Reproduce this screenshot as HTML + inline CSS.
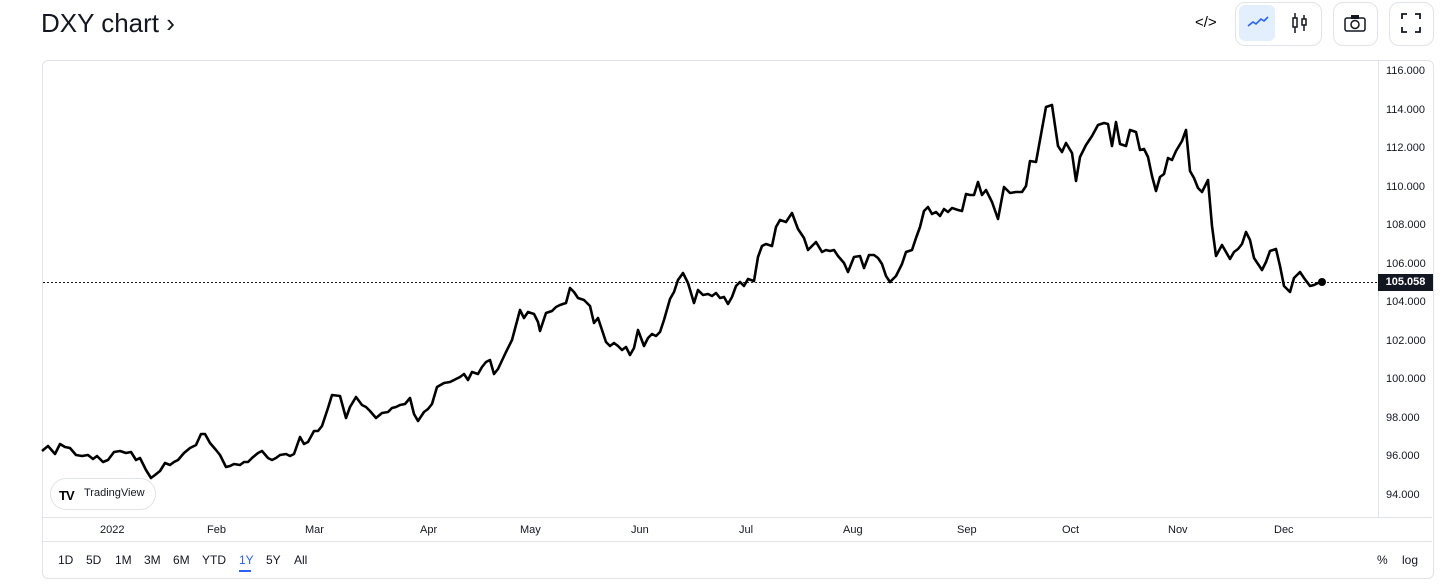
<!DOCTYPE html>
<html><head><meta charset="utf-8"><style>
body{margin:0;width:1456px;height:587px;background:#fff;font-family:"Liberation Sans",sans-serif;overflow:hidden;position:relative}
.t{position:absolute;left:41px;top:8px;font-size:26px;color:#131722}
.btn{position:absolute;top:2px;height:42px;border:1px solid #e0e3eb;border-radius:10px;background:#fff}
.box{position:absolute;left:42px;top:60px;width:1390px;height:517px;border:1px solid #e0e3eb;border-radius:6px}
.yl{position:absolute;left:1386px;font-size:11px;color:#131722}
.xl{position:absolute;top:524px;font-size:11px;color:#131722}
.rb{position:absolute;top:553px;font-size:12px;color:#131722}
</style></head><body>
<div class="t">DXY chart ›</div>
<div style="position:absolute;left:1195px;top:14px;font-size:15px">&lt;/&gt;</div>
<div class="btn" style="left:1235px;width:85px"></div>
<div style="position:absolute;left:1239px;top:5px;width:36px;height:36px;background:#e3effd;border-radius:6px"></div>
<svg style="position:absolute;left:1247px;top:14px" width="22" height="16"><polyline points="1,12 6,8 9,10 14,5 17,7 21,3" fill="none" stroke="#2962ff" stroke-width="1.6"/></svg>
<svg style="position:absolute;left:1291px;top:11px" width="18" height="24"><line x1="4" y1="2" x2="4" y2="22" stroke="#131722" stroke-width="1.5"/><rect x="2" y="7" width="4" height="9" fill="#fff" stroke="#131722" stroke-width="1.5"/><line x1="13" y1="4" x2="13" y2="20" stroke="#131722" stroke-width="1.5"/><rect x="11" y="8" width="4" height="6" fill="#fff" stroke="#131722" stroke-width="1.5"/></svg>
<div class="btn" style="left:1333px;width:43px"></div>
<svg style="position:absolute;left:1344px;top:14px" width="22" height="18"><rect x="1" y="4" width="20" height="13" rx="2" fill="none" stroke="#131722" stroke-width="1.5"/><rect x="7" y="1" width="8" height="4" fill="#131722"/><circle cx="11" cy="10.5" r="4" fill="none" stroke="#131722" stroke-width="1.5"/></svg>
<div class="btn" style="left:1389px;width:43px"></div>
<svg style="position:absolute;left:1401px;top:13px" width="20" height="20"><path d="M1 6V1H6M14 1H19V6M19 14V19H14M6 19H1V14" fill="none" stroke="#131722" stroke-width="1.8"/></svg>
<div class="box"></div>
<div style="position:absolute;left:1378px;top:61px;width:1px;height:456px;background:#e0e3eb"></div>
<div style="position:absolute;left:43px;top:517px;width:1389px;height:1px;background:#e0e3eb"></div>
<div style="position:absolute;left:43px;top:541px;width:1389px;height:1px;background:#e0e3eb"></div>
<div class="yl" style="top:65px">116.000</div>
<div class="yl" style="top:104px">114.000</div>
<div class="yl" style="top:142px">112.000</div>
<div class="yl" style="top:181px">110.000</div>
<div class="yl" style="top:219px">108.000</div>
<div class="yl" style="top:258px">106.000</div>
<div class="yl" style="top:296px">104.000</div>
<div class="yl" style="top:335px">102.000</div>
<div class="yl" style="top:373px">100.000</div>
<div class="yl" style="top:412px">98.000</div>
<div class="yl" style="top:450px">96.000</div>
<div class="yl" style="top:489px">94.000</div>
<div style="position:absolute;left:1378px;top:274px;width:55px;height:17px;background:#131722;color:#fff;font-size:11px;font-weight:bold;line-height:17px;text-align:center">105.058</div>
<svg style="position:absolute;left:0;top:0" width="1456" height="587">
<line x1="43" y1="282.5" x2="1378" y2="282.5" stroke="#131722" stroke-width="1" stroke-dasharray="2,2"/>
<polyline fill="none" stroke="#000" stroke-width="2.6" stroke-linejoin="round" points="42,451 48,446 55,454 60,444 65,447 70,448 76,455 82,456 88,455 93,459 97,456 103,462 108,460 114,452 120,451 126,453 131,452 136,460 140,458 146,470 151,478 155,475 160,471 165,463 170,465 174,462 178,460 184,453 190,448 196,445 201,434 205,434 210,443 216,450 220,455 226,467 230,466 234,464 240,465 244,462 248,462 252,458 258,453 262,451 268,458 272,460 276,458 280,455 286,454 290,456 294,454 300,437 304,444 308,442 314,431 318,431 322,426 328,408 332,395 340,396 346,418 350,407 356,397 362,405 366,407 370,411 376,418 382,413 388,412 392,408 396,407 400,405 405,404 410,398 414,414 418,421 424,412 428,409 432,404 437,387 444,383 450,382 456,379 460,377 464,374 468,380 472,372 478,374 482,367 486,362 490,360 494,374 498,369 506,352 512,340 516,325 520,310 524,318 528,312 534,314 538,322 540,331 546,313 552,311 556,307 560,305 566,303 570,288 574,292 578,298 584,300 590,306 594,323 598,318 602,330 606,342 610,346 614,343 618,346 622,350 626,347 630,355 634,348 638,330 644,346 648,338 652,334 656,336 660,332 664,320 670,299 674,292 678,280 683,273 688,283 694,303 698,290 703,295 708,294 712,296 716,293 720,298 724,297 728,304 732,297 736,286 740,282 744,286 748,279 754,281 758,257 762,246 766,244 772,246 776,227 780,220 786,222 792,213 798,229 804,238 808,250 812,246 816,242 822,252 826,250 830,251 834,250 838,256 844,263 848,272 854,257 860,256 864,268 869,255 874,255 878,258 882,264 886,276 890,282 896,276 902,264 906,252 912,250 916,238 920,227 924,211 928,207 932,214 936,212 940,216 944,209 948,212 952,208 958,210 962,211 966,194 970,195 974,195 978,182 982,195 986,190 992,202 998,219 1004,187 1010,193 1016,192 1022,192 1026,186 1030,161 1036,162 1040,140 1046,107 1052,105 1058,146 1062,152 1066,143 1072,153 1076,181 1080,157 1086,145 1092,136 1098,125 1104,123 1108,124 1112,146 1116,122 1120,144 1126,146 1130,130 1136,132 1140,150 1144,149 1148,157 1152,176 1156,191 1160,177 1164,174 1168,158 1172,160 1176,151 1182,141 1186,130 1190,171 1194,178 1198,188 1202,192 1208,180 1212,226 1216,256 1222,245 1226,252 1230,259 1234,252 1238,249 1242,244 1246,232 1250,240 1254,258 1258,264 1262,270 1266,262 1270,251 1276,249 1280,266 1284,286 1290,292 1294,278 1300,272 1304,278 1310,286 1314,285 1318,283 1322,282"/>
<circle cx="1322" cy="282" r="4" fill="#000"/>
</svg>
<div style="position:absolute;left:50px;top:478px;width:104px;height:30px;border:1px solid #e0e3eb;border-radius:16px;background:#fff"></div>
<div style="position:absolute;left:59px;top:488px;font-size:13px;font-weight:bold;letter-spacing:-1px">TV</div>
<div style="position:absolute;left:84px;top:487px;font-size:11px;color:#131722">TradingView</div>
<div class="xl" style="left:100px">2022</div>
<div class="xl" style="left:207px">Feb</div>
<div class="xl" style="left:305px">Mar</div>
<div class="xl" style="left:420px">Apr</div>
<div class="xl" style="left:520px">May</div>
<div class="xl" style="left:631px">Jun</div>
<div class="xl" style="left:739px">Jul</div>
<div class="xl" style="left:843px">Aug</div>
<div class="xl" style="left:957px">Sep</div>
<div class="xl" style="left:1062px">Oct</div>
<div class="xl" style="left:1168px">Nov</div>
<div class="xl" style="left:1274px">Dec</div>
<div class="rb" style="left:58px">1D</div>
<div class="rb" style="left:86px">5D</div>
<div class="rb" style="left:115px">1M</div>
<div class="rb" style="left:144px">3M</div>
<div class="rb" style="left:173px">6M</div>
<div class="rb" style="left:202px">YTD</div>
<div class="rb" style="left:239px;color:#2962ff">1Y</div>
<div style="position:absolute;left:239px;top:570px;width:12px;height:2px;background:#2962ff"></div>
<div class="rb" style="left:266px">5Y</div>
<div class="rb" style="left:294px">All</div>
<div class="rb" style="left:1377px">%</div>
<div class="rb" style="left:1402px">log</div>
</body></html>
